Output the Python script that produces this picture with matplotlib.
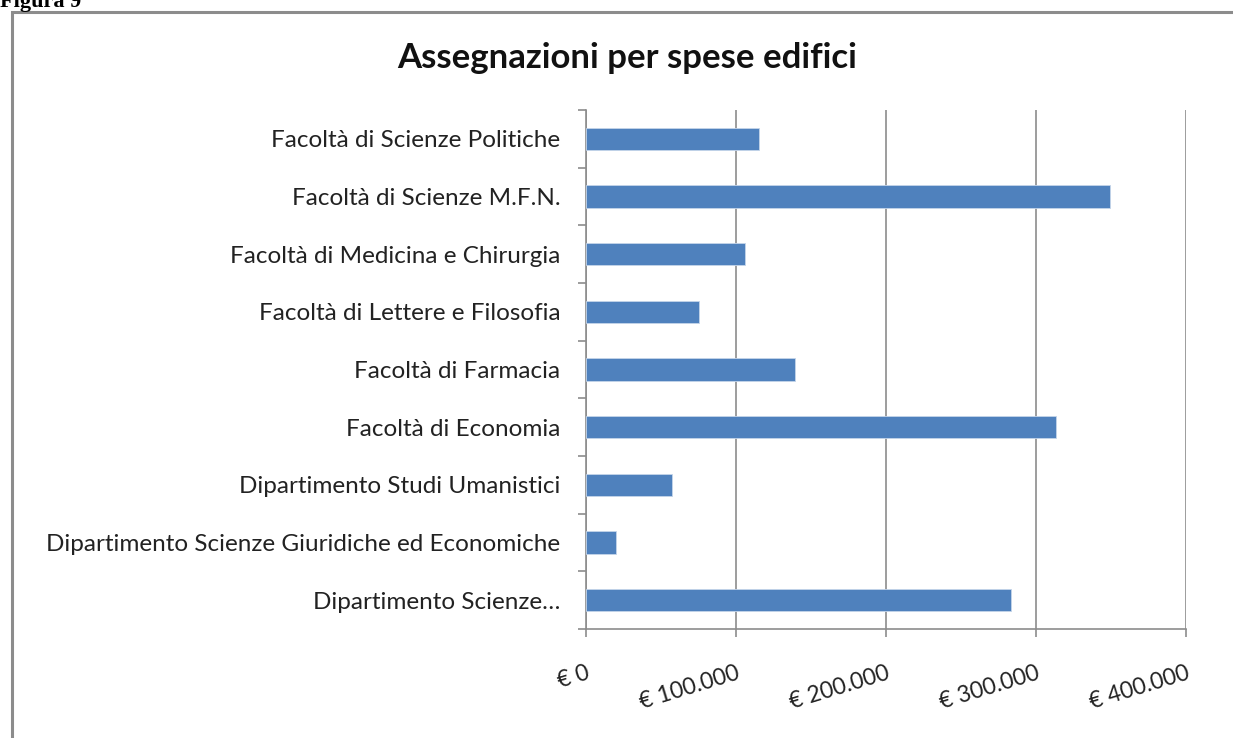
import matplotlib
matplotlib.use("Agg")
import matplotlib.pyplot as plt
from matplotlib.patches import Rectangle
import numpy as np

categories = [
    "Facoltà di Scienze Politiche",
    "Facoltà di Scienze M.F.N.",
    "Facoltà di Medicina e Chirurgia",
    "Facoltà di Lettere e Filosofia",
    "Facoltà di Farmacia",
    "Facoltà di Economia",
    "Dipartimento Studi Umanistici",
    "Dipartimento Scienze Giuridiche ed Economiche",
    "Dipartimento Scienze…",
]
values = [115000, 349000, 106000, 75000, 139000, 313000, 57000, 20000, 283000]
xticks = [0, 100000, 200000, 300000, 400000]
xtick_labels = ["€ 0", "€ 100.000", "€ 200.000", "€ 300.000", "€ 400.000"]
title = "Assegnazioni per spese edifici"

FONT = "Lato"
fig = plt.figure(figsize=(12.33, 7.38), dpi=100)
fig.patch.set_facecolor("white")

# chart frame
fig.patches.append(Rectangle((11.5/1233, -0.1), 1.2, 1.1 - 12.5/738,
                             transform=fig.transFigure, fill=False,
                             edgecolor="#8c8c8c", linewidth=2.2, zorder=0))
fig.text(0.0, 1 - 7/738, "Figura 9", family="Liberation Serif", weight="bold",
         fontsize=16, ha="left", va="baseline")

ax = fig.add_axes([586/1233, 1 - 629/738, 600/1233, 519/738])
y = np.arange(len(categories))
ax.barh(y, values, height=0.39, color="#4F81BD", edgecolor="#c5d5ea", linewidth=0.6, zorder=3)
ax.set_ylim(len(categories) - 0.5, -0.5)
ax.set_xlim(0, 400000)

ax.set_yticks(y)
ax.set_yticklabels(categories, family=FONT, fontsize=17.5, color="#222222")
ax.set_yticks(np.arange(len(categories) + 1) - 0.5, minor=True)
ax.tick_params(axis="y", which="major", length=0, pad=18.5)
ax.tick_params(axis="y", which="minor", length=6, width=1.2, color="#8c8c8c", direction="out")

ax.set_xticks(xticks)
ax.set_xticklabels(xtick_labels, family=FONT, fontsize=16.5, color="#222222",
                   rotation=17, ha="right", va="top", rotation_mode="anchor")
ax.tick_params(axis="x", which="major", length=6, width=1.2, color="#8c8c8c", direction="out", pad=18)

ax.grid(axis="x", color="#8c8c8c", linewidth=1.2, zorder=0)
ax.set_axisbelow(True)
for s in ["top", "right"]:
    ax.spines[s].set_visible(False)
for s in ["left", "bottom"]:
    ax.spines[s].set_color("#8c8c8c")
    ax.spines[s].set_linewidth(1.2)

fig.text(627/1233, 1 - 58/738, title, family=FONT, weight="bold", fontsize=25,
         ha="center", va="center", color="#111111")

fig.savefig("out.png", dpi=100)
